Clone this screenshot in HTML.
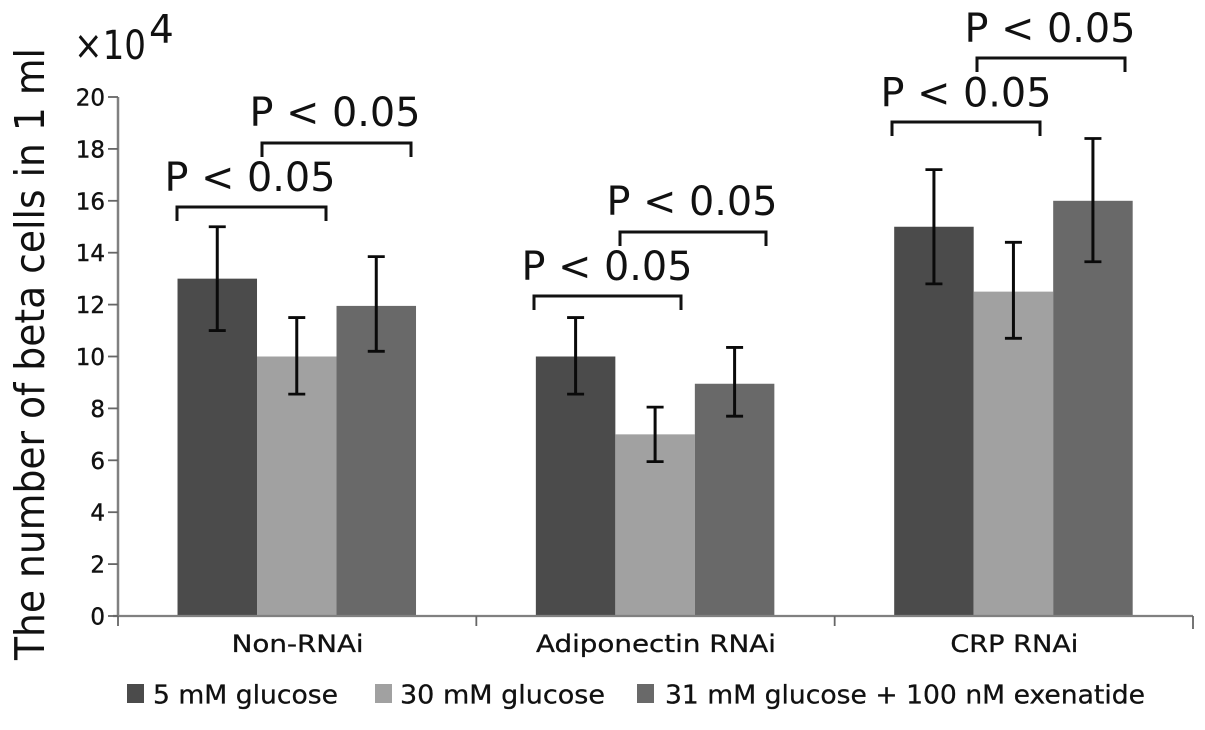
<!DOCTYPE html>
<html>
<head>
<meta charset="utf-8">
<style>
html,body{margin:0;padding:0;background:#fff;}
svg{display:block;}
text{font-family:"DejaVu Sans","Liberation Sans",sans-serif;fill:#111;}
</style>
</head>
<body>
<svg id="chart" width="1205" height="730" viewBox="0 0 1205 730" xmlns="http://www.w3.org/2000/svg"></svg>
<script>
const categories = ["Non-RNAi", "Adiponectin RNAi", "CRP RNAi"];
const seriesNames = ["5 mM glucose", "30 mM glucose", "31 mM glucose + 100 nM exenatide"];
const glucose5 = [13, 10, 15];
const glucose30 = [10, 7, 12.5];
const exenatide = [11.95, 8.95, 16];
const glucose5Upper = [15, 11.5, 17.2];
const glucose5Lower = [11, 8.55, 12.8];
const glucose30Upper = [11.5, 8.05, 14.4];
const glucose30Lower = [8.55, 5.95, 10.7];
const exenatideUpper = [13.85, 10.35, 18.4];
const exenatideLower = [10.2, 7.7, 13.65];
const yTicks = [0, 2, 4, 6, 8, 10, 12, 14, 16, 18, 20];
const sigLabel = "P < 0.05";

const svg = document.getElementById('chart');
const NS = 'http://www.w3.org/2000/svg';
const plotLeft = 118, plotRight = 1193, plotTop = 97, plotBottom = 616, yMax = 20;
const colors = ['#4b4b4b', '#a1a1a1', '#696969'];
const values = [glucose5, glucose30, exenatide];
const uppers = [glucose5Upper, glucose30Upper, exenatideUpper];
const lowers = [glucose5Lower, glucose30Lower, exenatideLower];
const catWidth = (plotRight - plotLeft) / categories.length;
const barWidth = 79.5;

function yScale(v) { return plotBottom - (v / yMax) * (plotBottom - plotTop); }
function catStart(c) { return plotLeft + c * catWidth; }
function barLeft(c, s) { return catStart(c) + (catWidth - barWidth * 3) / 2 - 0.4 + s * barWidth; }

function add(tag, attrs, text) {
  const el = document.createElementNS(NS, tag);
  for (const k in attrs) el.setAttribute(k, attrs[k]);
  if (text !== undefined) el.textContent = text;
  svg.appendChild(el);
  return el;
}

// bars
values.forEach(function (arr, s) {
  arr.forEach(function (v, c) {
    const el = add('rect', {x: barLeft(c, s), y: yScale(v), width: barWidth, height: plotBottom - yScale(v), fill: colors[s]});
    
    
  });
});

// axes
const yAxis = add('line', {x1: plotLeft, y1: plotTop, x2: plotLeft, y2: plotBottom, stroke: '#808080', 'stroke-width': 2.5});


const xAxis = add('line', {x1: plotLeft - 5, y1: plotBottom, x2: plotRight, y2: plotBottom, stroke: '#808080', 'stroke-width': 2.2});



yTicks.forEach(function (t) {
  const y = yScale(t);
  const tick = add('line', {x1: plotLeft - 10, y1: y, x2: plotLeft, y2: y, stroke: '#666', 'stroke-width': 1.8});
  
  
  const label = add('text', {x: 105, y: y + 8.5, 'text-anchor': 'end', 'font-size': 23, stroke: '#111', 'stroke-width': 0.4}, String(t));
  
  
});

for (let c = 0; c <= categories.length; c++) {
  const x = catStart(c);
  const tick = add('line', {x1: x, y1: plotBottom, x2: x, y2: plotBottom + (c === categories.length ? 13 : 10), stroke: '#666', 'stroke-width': 1.8});
  
  
}

const catLabelWidths = [132, 240, 128];
categories.forEach(function (name, c) {
  const label = add('text', {x: catStart(c) + catWidth / 2 + 0.5, y: 652, 'text-anchor': 'middle', 'font-size': 24, textLength: catLabelWidths[c], lengthAdjust: 'spacingAndGlyphs', stroke: '#111', 'stroke-width': 0.3}, name);
  
  
});

// error bars
uppers.forEach(function (arr, s) {
  arr.forEach(function (u, c) {
    const x = barLeft(c, s) + barWidth / 2;
    const yU = yScale(u), yL = yScale(lowers[s][c]);
    const stem = add('line', {x1: x, y1: yU, x2: x, y2: yL, stroke: '#0a0a0a', 'stroke-width': 3});
    
    
    const capU = add('line', {x1: x - 8.5, y1: yU, x2: x + 8.5, y2: yU, stroke: '#0a0a0a', 'stroke-width': 2.8});
    
    
    const capL = add('line', {x1: x - 8.5, y1: yL, x2: x + 8.5, y2: yL, stroke: '#0a0a0a', 'stroke-width': 2.8});
    
    
  });
});

// significance brackets (annotation placement, not data)
const brackets = [
  [177, 326, 207, 164.5, 191], [262, 411, 143, 249.5, 126],
  [534, 681, 296, 521.5, 280], [620, 766, 232, 606.5, 215],
  [892, 1040, 122, 880.5, 106.5], [977, 1125, 58, 964.5, 42]
];
brackets.forEach(function (b) {
  const path = add('path', {d: 'M' + b[0] + ' ' + (b[2] + 14) + 'V' + b[2] + 'H' + b[1] + 'V' + (b[2] + 14), fill: 'none', stroke: '#111', 'stroke-width': 3});
  
  
  const label = add('text', {x: b[3], y: b[4], 'font-size': 40, textLength: 171, lengthAdjust: 'spacingAndGlyphs'}, sigLabel);
  
  
});

// axis title + multiplier
const yTitle = add('text', {transform: 'translate(44,660) rotate(-90)', 'font-size': 41, textLength: 612, lengthAdjust: 'spacingAndGlyphs'}, 'The number of beta cells in 1 ml');


const mult = add('text', {x: 74, y: 59, 'font-size': 40, textLength: 72, lengthAdjust: 'spacingAndGlyphs'}, '×10');


const exp = add('text', {x: 149, y: 43, 'font-size': 39}, '4');



// legend
const legendX = [127, 375, 637];
const legendTextX = [153, 400, 665];
const legendLen = [185, 205, 480];
seriesNames.forEach(function (name, s) {
  const swatch = add('rect', {x: legendX[s], y: 684, width: 17, height: 19, fill: colors[s]});
  
  
  const label = add('text', {x: legendTextX[s], y: 703.5, 'font-size': 26, textLength: legendLen[s], lengthAdjust: 'spacingAndGlyphs', stroke: '#111', 'stroke-width': 0.3}, name);
  
  
});
</script>
</body>
</html>
